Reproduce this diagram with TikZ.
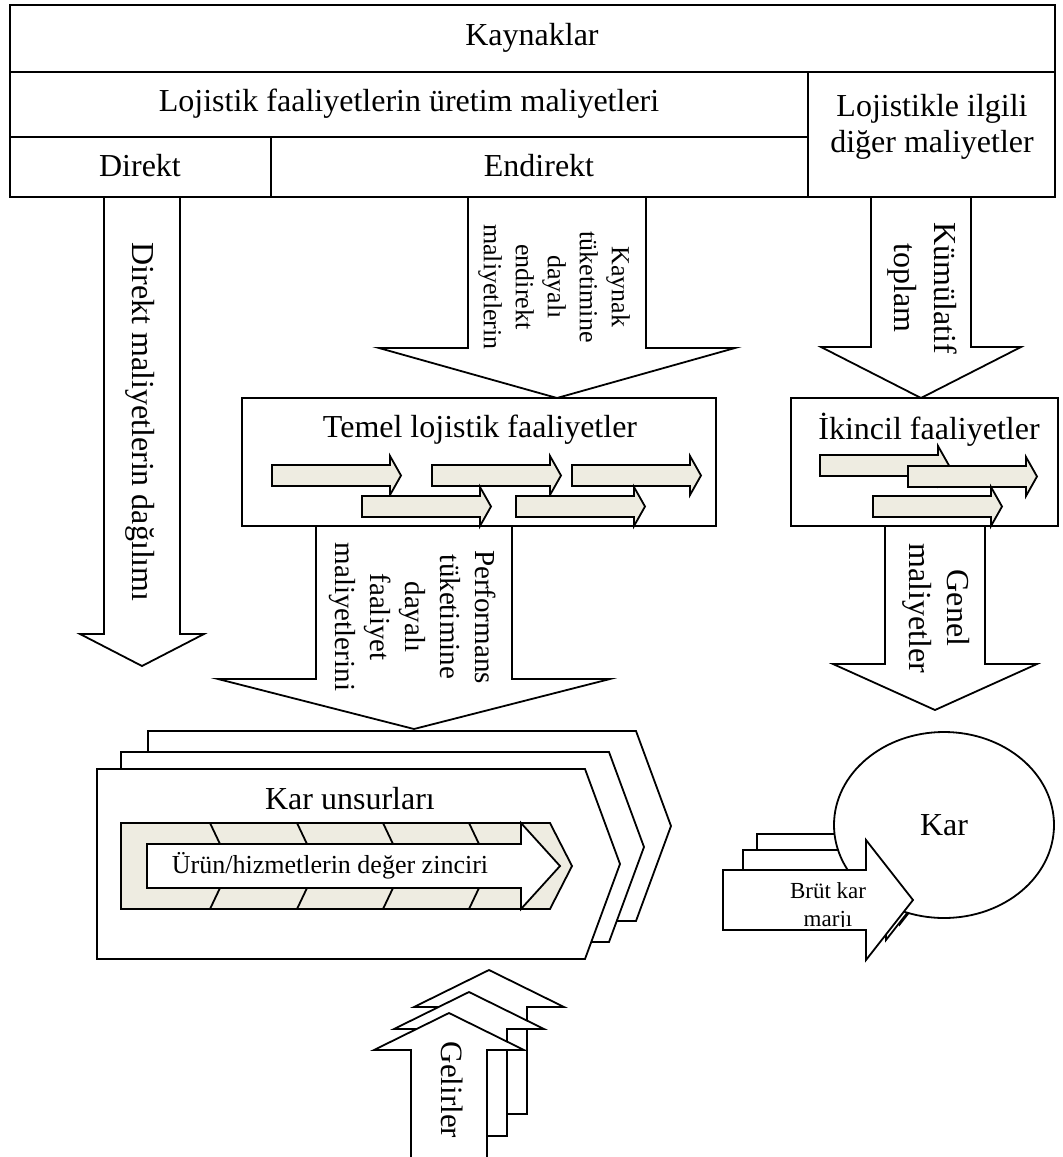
\documentclass[tikz,border=0pt]{standalone}
\usepackage{fontspec}
\setmainfont{Liberation Serif}
\usetikzlibrary{shapes.geometric}

\definecolor{paper}{RGB}{238,236,225}

\begin{document}
\begin{tikzpicture}[x=0.5pt, y=-0.5pt, line width=0.9pt]
  \tikzset{
    box/.style={draw, fill=white},
    chip/.style={draw, fill=paper},
    txt/.style={font=\fontsize{16}{19}\selectfont, align=center, inner sep=0pt},
    side/.style={txt, rotate=-90},
  }
  \useasboundingbox (0,0) rectangle (1062,1157);

  % arrows leaving the table
  \draw[box] (104,197) -- (104,634) -- (80,634) -- (142,666) -- (204,634) -- (180,634) -- (180,197);
  \draw[box] (468,197) -- (468,348) -- (379,348) -- (557,398) -- (735,348) -- (646,348) -- (646,197);
  \draw[box] (871,197) -- (871,347) -- (821,347) -- (921,398) -- (1021,347) -- (971,347) -- (971,197);

  % kaynaklar table
  \draw (10,5) rectangle (1055,197);
  \draw (10,72) -- (1055,72);
  \draw (10,137) -- (808,137);
  \draw (808,72) -- (808,197);
  \draw (271,137) -- (271,197);
  \node[txt] (kaynak) at (532,38) {Kaynaklar};
  \node[txt] (uretim) at (409,104) {Lojistik faaliyetlerin üretim maliyetleri};
  \node[txt, font=\fontsize{16}{18}\selectfont] (diger) at (932,127) {Lojistikle ilgili\\diğer maliyetler};
  \node[txt] (direkt) at (140,166) {Direkt};
  \node[txt] (endirekt) at (539,166) {Endirekt};

  \node[side] (dagilim) at (140,422) {Direkt maliyetlerin dağılımı};
  \node[side, font=\fontsize{13}{16}\selectfont] (tuketim) at (554,287)
    {Kaynak\\tüketimine\\dayalı\\endirekt\\maliyetlerin};
  \node[side, font=\fontsize{16}{20}\selectfont] (kumul) at (922,288) {Kümülatif\\toplam};

  % activity boxes
  \draw[box] (414,526) -- (316,526) -- (316,679) -- (218,679) -- (414,729) -- (610,679) -- (512,679) -- (512,526);
  \draw[box] (885,526) -- (885,664) -- (833,664) -- (935,710) -- (1037,664) -- (985,664) -- (985,526);
  \draw[box] (242,398) rectangle (716,526);
  \draw[box] (791,398) rectangle (1058,526);
  \node[txt] (temel) at (480,430) {Temel lojistik faaliyetler};
  \node[txt] (ikincil) at (929,430) {İkincil faaliyetler};
  \foreach \x/\y in {272/465, 432/465, 572/465, 362/496, 516/496, 820/455, 908/466, 873/496}
    \draw[chip] (\x,\y) -- ++(118,0) -- ++(0,-9) -- ++(11,19.5) -- ++(-11,19.5) -- ++(0,-9) -- ++(-118,0) -- cycle;

  \node[side, font=\fontsize{14.5}{17.5}\selectfont] (performans) at (413,617)
    {Performans\\tüketimine\\dayalı\\faaliyet\\maliyetlerini};
  \node[side, font=\fontsize{16}{19}\selectfont] (genel) at (936,608) {Genel\\maliyetler};

  % kar unsurlari
  \foreach \s in {(51,-38), (24,-17), (0,0)}
    \draw[box, shift={\s}] (97,769) -- (585,769) -- (620,864) -- (585,959) -- (97,959) -- cycle;
  \draw[chip] (121,823) -- (550,823) -- (572,866) -- (550,909) -- (121,909) -- cycle;
  \foreach \x in {210,297,383,469}
    \draw (\x,823) -- ++(10,21) (\x,909) -- ++(10,-21);
  \draw[box] (147,844) -- (521,844) -- (521,823) -- (560,866) -- (521,909) -- (521,888) -- (147,888) -- cycle;
  \node[txt] (unsur) at (350,799) {Kar unsurları};
  \node[txt, font=\fontsize{13}{16}\selectfont] (zincir) at (330,866) {Ürün/hizmetlerin değer zinciri};

  % gelirler
  \foreach \s in {(40,-43), (20,-21)}
    \draw[box, shift={\s}] (411,1157) -- (411,1050) -- (374,1050) -- (449,1013) -- (524,1050) -- (487,1050) -- (487,1157) -- cycle;
  \draw[box] (411,1165) -- (411,1050) -- (374,1050) -- (449,1013) -- (524,1050) -- (487,1050) -- (487,1165);
  \node[side, font=\fontsize{15.5}{19}\selectfont] (gelir) at (452,1090) {Gelirler};

  % kar
  \foreach \s in {(34,-36), (20,-20)}
    \draw[box, shift={\s}] (723,870) -- (866,870) -- (866,840) -- (913,900) -- (866,960) -- (866,930) -- (723,930) -- cycle;
  \node[box, ellipse, minimum width=110pt, minimum height=93pt, inner sep=0pt, font=\fontsize{16}{19}\selectfont] (kar) at (944,825) {Kar};
  \draw[box] (723,870) -- (866,870) -- (866,840) -- (913,900) -- (866,960) -- (866,930) -- (723,930) -- cycle;
  \begin{scope}
    \clip (723,870) rectangle (866,926);
    \node[txt, font=\fontsize{11.5}{14}\selectfont] (brut) at (828,907) {Brüt kar\\marjı};
  \end{scope}
\end{tikzpicture}
\end{document}
